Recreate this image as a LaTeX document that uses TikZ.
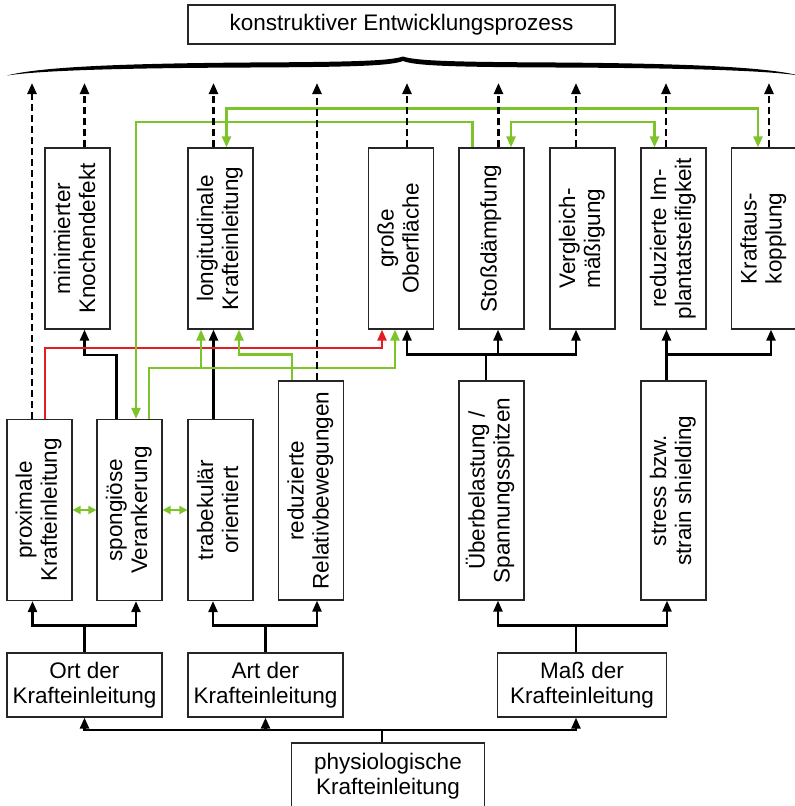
\documentclass[tikz,border=0pt]{standalone}
\usepackage{fontspec}
\setmainfont{Liberation Sans}
\usetikzlibrary{arrows.meta}

\definecolor{lgreen}{RGB}{124,196,42}
\definecolor{lred}{RGB}{226,30,36}

% rotated label, lines separated by \\
\newcommand{\vlabel}[1]{\rotatebox{90}{\begin{tabular}{@{}c@{}}#1\end{tabular}}}

\tikzset{
  box/.style={draw=black!85, line width=1.2pt, inner sep=0pt,
    minimum width=65pt, minimum height=181pt},
  tall/.style={box, minimum height=219pt},
  flat/.style={box, minimum height=64pt, align=center},
  link/.style={line width=2.4pt, -{Triangle[length=11pt,width=9pt]}},
  goal/.style={link, dash pattern=on 7pt off 4pt},
  side/.style={link, lgreen},
  both/.style={side, {Triangle[length=11pt,width=9pt]}-{Triangle[length=11pt,width=9pt]}},
  swap/.style={lgreen, line width=2.4pt,
    {Triangle[length=8pt,width=8pt]}-{Triangle[length=8pt,width=8pt]}},
}

\begin{document}
\begin{tikzpicture}[x=1pt, y=-1pt, font=\fontsize{22.5}{25}\selectfont]
  \clip[use as bounding box] (0,0) rectangle (795,806);

  % goal and brace
  \node[box, minimum width=427pt, minimum height=39pt] (kep) at (401.5,24.5) {konstruktiver Entwicklungsprozess};
  \fill (7,75.5) .. controls (40,67) and (120,63.5) .. (250,62.5)
    .. controls (350,62) and (390,61) .. (403,56.5)
    .. controls (416,61) and (456,62) .. (556,62.5)
    .. controls (686,63.5) and (766,67) .. (799,75.5)
    .. controls (766,70.5) and (686,68) .. (556,67.5)
    .. controls (456,67) and (416,66) .. (403,61)
    .. controls (390,66) and (350,67) .. (250,67.5)
    .. controls (120,68) and (40,70.5) .. (7,75.5) -- cycle;
  \coordinate (bt) at (0,83);

  % upper row
  \node[box] (mkd) at (77.5,238.5) {\vlabel{minimierter\\Knochendefekt}};
  \node[box] (lki) at (220.5,238.5) {\vlabel{longitudinale\\Krafteinleitung}};
  \node[box] (gob) at (401,238.5) {\vlabel{große\\Oberfläche}};
  \node[box] (std) at (491.5,238.5) {\vlabel{Stoßdämpfung}};
  \node[box] (vgm) at (582.5,238.5) {\vlabel{Vergleich-\\mäßigung}};
  \node[box] (ris) at (673.5,238.5) {\vlabel{reduzierte Im-\\plantatsteifigkeit}};
  \node[box] (kak) at (764,238.5) {\vlabel{Kraftaus-\\kopplung}};

  % lower row
  \node[box] (pkl) at (39.5,510) {\vlabel{proximale\\Krafteinleitung}};
  \node[box] (svk) at (129.5,510) {\vlabel{spongiöse\\Verankerung}};
  \node[box] (tor) at (220.5,510) {\vlabel{trabekulär\\orientiert}};
  \node[tall] (rrb) at (311,490.5) {\vlabel{reduzierte\\Relativbewegungen}};
  \node[tall] (ueb) at (491.5,490.5) {\vlabel{Überbelastung /\\Spannungsspitzen}};
  \node[tall] (ssh) at (673.5,490.5) {\vlabel{stress bzw.\\strain shielding}};

  % categories
  \node[flat, minimum width=155pt] (ort) at (84.5,685) {Ort der\\Krafteinleitung};
  \node[flat, minimum width=155pt] (art) at (265.5,685) {Art der\\Krafteinleitung};
  \node[flat, minimum width=169pt] (mas) at (582,685) {Maß der\\Krafteinleitung};
  \node[flat, minimum width=193pt, minimum height=67pt] (phy) at (388,776.5) {physiologische\\Krafteinleitung};

  % tree
  \draw[link] ([xshift=-6.3pt]phy.north) -- ++(0,-12.5) -| (ort.south);
  \draw[link] ([xshift=-6.3pt]phy.north) -- ++(0,-12.5) -| (art.south);
  \draw[link] ([xshift=-6.3pt]phy.north) -- ++(0,-12.5) -| ([xshift=-6pt]mas.south);
  \draw[link] (ort.north) -- ++(0,-27) -| ([xshift=-7pt]pkl.south);
  \draw[link] (ort.north) -- ++(0,-27) -| ([xshift=6.5pt]svk.south);
  \draw[link] (art.north) -- ++(0,-27) -| ([xshift=-7.5pt]tor.south);
  \draw[link] (art.north) -- ++(0,-27) -| ([xshift=6pt]rrb.south);
  \draw[link] ([xshift=-6pt]mas.north) -- ++(0,-27) -| ([xshift=6.5pt]ueb.south);
  \draw[link] ([xshift=-6pt]mas.north) -- ++(0,-27) -| ([xshift=-6.5pt]ssh.south);

  % lower row to upper row
  \draw[link] ([xshift=-13pt]svk.north) -- ++(0,-64) -| ([xshift=7pt]mkd.south);
  \draw[link] ([xshift=-7pt]tor.north) -- ([xshift=-7pt]lki.south);
  \draw[link] ([xshift=-5.5pt]ueb.north) -- ++(0,-26) -| ([xshift=6pt]gob.south);
  \draw[link] ([xshift=-5.5pt]ueb.north) -- ++(0,-26) -| ([xshift=6.5pt]std.south);
  \draw[link] ([xshift=-5.5pt]ueb.north) -- ++(0,-26) -| ([xshift=-6.5pt]vgm.south);
  \draw[link] ([xshift=-7pt]ssh.north) -- ++(0,-26) -| ([xshift=-7pt]ris.south);
  \draw[link] ([xshift=-7pt]ssh.north) -- ++(0,-26) -| ([xshift=7pt]kak.south);
  \draw[link, lred] ([xshift=5.5pt]pkl.north) -- ++(0,-71) -| ([xshift=-19pt]gob.south);

  % green cross links
  \draw[side] ([xshift=19.5pt]svk.north) -- ++(0,-51) coordinate (sv) -| ([xshift=-6pt]gob.south);
  \draw[side] ([xshift=-19.5pt]lki.south |- sv) -- ([xshift=-19.5pt]lki.south);
  \draw[side] ([xshift=-19pt]rrb.north) -- ++(0,-26) -| ([xshift=18.5pt]lki.south);
  \draw[side] ([xshift=-19pt]std.north) -- ++(0,-25.5) -| ([xshift=6.5pt]svk.north);
  \draw[both] ([xshift=6pt]lki.north) -- ++(0,-39) -| ([xshift=-6pt]kak.north);
  \draw[both] ([xshift=19.5pt]std.north) -- ++(0,-25.5) -| ([xshift=-19pt]ris.north);
  \draw[swap] (pkl) -- (svk);
  \draw[swap] (svk) -- (tor);

  % contributions to the goal
  \draw[goal] ([xshift=-7.5pt]pkl.north) -- ([xshift=-7.5pt]pkl.north |- bt);
  \draw[goal] ([xshift=7pt]mkd.north) -- ([xshift=7pt]mkd.north |- bt);
  \draw[goal] ([xshift=-7pt]lki.north) -- ([xshift=-7pt]lki.north |- bt);
  \draw[goal] ([xshift=6pt]rrb.north) -- ([xshift=6pt]rrb.north |- bt);
  \draw[goal] ([xshift=6pt]gob.north) -- ([xshift=6pt]gob.north |- bt);
  \draw[goal] ([xshift=7pt]std.north) -- ([xshift=7pt]std.north |- bt);
  \draw[goal] ([xshift=-6.5pt]vgm.north) -- ([xshift=-6.5pt]vgm.north |- bt);
  \draw[goal] ([xshift=-7.5pt]ris.north) -- ([xshift=-7.5pt]ris.north |- bt);
  \draw[goal] ([xshift=5pt]kak.north) -- ([xshift=5pt]kak.north |- bt);
\end{tikzpicture}
\end{document}
